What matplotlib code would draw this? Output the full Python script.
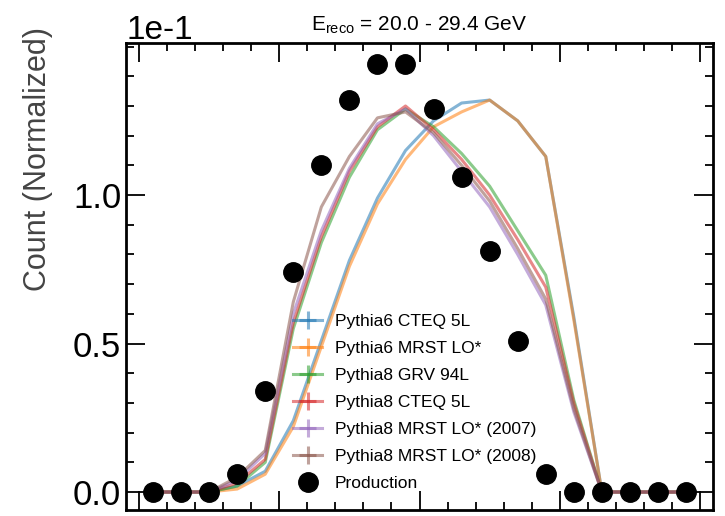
#!/usr/bin/env python3
"""Normalized count per bin: production sample vs Pythia6/Pythia8 PDF variations."""
import numpy as np
import matplotlib
matplotlib.use("Agg")
import matplotlib.pyplot as plt
from matplotlib.ticker import MultipleLocator, FixedLocator, ScalarFormatter

plt.rcParams["font.family"] = ["Liberation Sans", "DejaVu Sans"]
plt.rcParams["axes.unicode_minus"] = False

N_BINS = 20
EDGES = np.linspace(0.0, 1.0, N_BINS + 1)

PRODUCTION = [0.0, 0.0, 0.0, 0.006, 0.034, 0.074, 0.110, 0.132, 0.144, 0.144,
              0.129, 0.106, 0.081, 0.051, 0.006, 0.0, 0.0, 0.0, 0.0, 0.0]

PY6_CTEQ5L = [0.0, 0.0, 0.0, 0.002, 0.007, 0.024, 0.051, 0.078, 0.099, 0.115,
              0.125, 0.131, 0.132, 0.125, 0.113, 0.059, 0.0, 0.0, 0.0, 0.0]
PY6_MRSTLO = [0.0, 0.0, 0.0, 0.001, 0.006, 0.022, 0.049, 0.076, 0.097, 0.112,
              0.123, 0.128, 0.132, 0.125, 0.113, 0.058, 0.0, 0.0, 0.0, 0.0]
PY8_GRV94L = [0.0, 0.0, 0.0, 0.002, 0.010, 0.055, 0.084, 0.106, 0.122, 0.129,
              0.123, 0.114, 0.103, 0.088, 0.073, 0.031, 0.0, 0.0, 0.0, 0.0]
PY8_CTEQ5L = [0.0, 0.0, 0.0, 0.003, 0.011, 0.057, 0.086, 0.108, 0.123, 0.130,
              0.122, 0.112, 0.100, 0.085, 0.069, 0.030, 0.0, 0.0, 0.0, 0.0]
PY8_MRST07 = [0.0, 0.0, 0.0, 0.004, 0.013, 0.060, 0.088, 0.109, 0.124, 0.129,
              0.120, 0.108, 0.096, 0.080, 0.063, 0.027, 0.0, 0.0, 0.0, 0.0]
PY8_MRST08 = [0.0, 0.0, 0.0, 0.005, 0.014, 0.064, 0.096, 0.113, 0.126, 0.128,
              0.121, 0.110, 0.098, 0.082, 0.065, 0.028, 0.0, 0.0, 0.0, 0.0]

SERIES = [
    ("Pythia6 CTEQ 5L", PY6_CTEQ5L, "tab:blue"),
    ("Pythia6 MRST LO*", PY6_MRSTLO, "tab:orange"),
    ("Pythia8 GRV 94L", PY8_GRV94L, "tab:green"),
    ("Pythia8 CTEQ 5L", PY8_CTEQ5L, "tab:red"),
    ("Pythia8 MRST LO* (2007)", PY8_MRST07, "tab:purple"),
    ("Pythia8 MRST LO* (2008)", PY8_MRST08, "tab:brown"),
]


def main():
    x = 0.5 * (EDGES[:-1] + EDGES[1:])
    zeros = np.zeros(N_BINS)

    fig = plt.figure(figsize=(7.25, 5.16), dpi=100)
    ax = fig.add_axes([0.1738, 0.0116, 0.8097, 0.905])

    handles = []
    for label, vals, col in SERIES:
        h = ax.errorbar(x, vals, xerr=zeros, yerr=zeros, color=col, lw=2.2,
                        alpha=0.55, label=label)
        handles.append(h)
    h, = ax.plot(x, PRODUCTION, "o", color="black", ms=14, label="Production", zorder=5)
    handles.append(h)

    pad = 0.0232
    ax.set_xlim(EDGES[0] - pad, EDGES[-1] + pad)
    ax.set_ylim(-0.00606, 0.1512)

    ax.xaxis.set_major_locator(MultipleLocator(0.25))
    ax.xaxis.set_minor_locator(MultipleLocator(0.05))
    ax.yaxis.set_major_locator(FixedLocator([0.0, 0.05, 0.10]))
    ax.yaxis.set_minor_locator(MultipleLocator(0.01))
    fmt = ScalarFormatter(useMathText=False)
    fmt.set_powerlimits((0, 0))
    ax.yaxis.set_major_formatter(fmt)
    ax.yaxis.get_offset_text().set_fontsize(24)

    ax.tick_params(which="both", direction="in", top=True, right=True,
                   width=1.3, labelbottom=False, labelsize=25)
    ax.tick_params(which="major", length=14)
    ax.tick_params(which="minor", length=6)
    for s in ax.spines.values():
        s.set_linewidth(2.0)

    ax.set_ylabel("Count (Normalized)", fontsize=22, color="#444444", loc="top")
    ax.yaxis.set_label_coords(-0.124, 1.034)
    ax.set_title(r"E$_\mathregular{reco}$ = 20.0 - 29.4 GeV", fontsize=15, pad=9)

    ax.legend(handles=handles, loc="upper left", bbox_to_anchor=(0.2726, 0.4347),
              borderaxespad=0, frameon=False, fontsize=12.5, handlelength=1.7,
              handletextpad=0.7, labelspacing=0.68, numpoints=1)

    fig.savefig("out.png", dpi=100)


if __name__ == "__main__":
    main()
